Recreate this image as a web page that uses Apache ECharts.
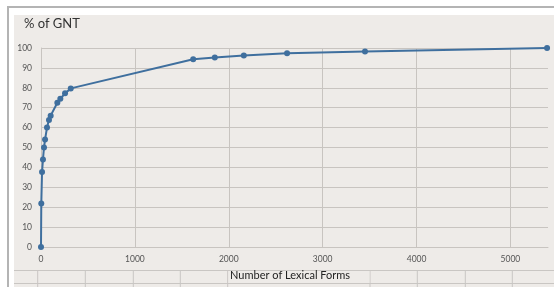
<!DOCTYPE html>
<html>
<head>
<meta charset="utf-8">
<script src="https://cdn.jsdelivr.net/npm/echarts@6/dist/echarts.min.js"></script>
<style>
  html, body { margin: 0; padding: 0; background: #fff; }
  #chart { width: 554px; height: 287px; }
</style>
</head>
<body>
<div id="chart"></div>
<script>
// number of lexical forms vs cumulative % of GNT
const lexicalForms = [0, 3, 11, 21, 32, 43, 64, 85, 103, 174, 206, 256, 317, 1621, 1851, 2160, 2621, 3451, 5390];
const percentGNT = [0, 21.8, 37.7, 44, 50, 54, 60, 63.8, 66, 72.5, 74.5, 77.2, 79.7, 94.3, 95.2, 96.2, 97.3, 98.3, 100];
const yTicks = [0, 10, 20, 30, 40, 50, 60, 70, 80, 90, 100];
const xTicks = [0, 1000, 2000, 3000, 4000, 5000];

const font = 'Lato, "Open Sans", sans-serif';
const gridColor = '#c8c4c0';

var mychart = echarts.init(document.getElementById('chart'));

// spreadsheet cell borders under the chart
const cellLines = [37.7, 85.3, 133.3, 180.3, 227.7, 370, 417.3, 465.3, 512.3].map(x => ({
  type: 'line',
  shape: { x1: x, y1: 270, x2: x, y2: 287 },
  style: { stroke: '#c9c6c3', lineWidth: 1 },
  silent: true
}));

mychart.setOption({
  animation: false,
  backgroundColor: '#ffffff',
  graphic: [
    { type: 'rect', shape: { x: 14, y: 15, width: 540, height: 272 }, style: { fill: '#eeebe8' }, z: -10 },
    { type: 'line', shape: { x1: 7, y1: 7, x2: 554, y2: 7 }, style: { stroke: '#b4b4b4', lineWidth: 2 } },
    { type: 'line', shape: { x1: 8, y1: 7, x2: 8, y2: 287 }, style: { stroke: '#b4b4b4', lineWidth: 2 } },
    { type: 'line', shape: { x1: 14, y1: 270.5, x2: 554, y2: 270.5 }, style: { stroke: '#c9c6c3', lineWidth: 1 } },
    { type: 'line', shape: { x1: 14, y1: 283.5, x2: 554, y2: 283.5 }, style: { stroke: '#c9c6c3', lineWidth: 1 } },
    ...cellLines,
    { type: 'rect', shape: { x: 228.5, y: 271, width: 141, height: 12 }, style: { fill: '#eeebe8' } },
    {
      type: 'text', left: 230, top: 270,
      style: { text: 'Number of Lexical Forms', fill: '#222', font: '11px ' + font }
    },
    {
      type: 'text', left: 24, top: 17,
      style: { text: '% of GNT', fill: '#333', font: '13px ' + font }
    }
  ],
  grid: { left: 41, right: 6, top: 48, bottom: 40 },
  xAxis: {
    type: 'value',
    min: xTicks[0],
    max: 5400,
    interval: 1000,
    axisLine: { show: true, lineStyle: { color: gridColor } },
    axisTick: { show: false },
    axisLabel: {
      color: '#555', fontSize: 8.5, fontFamily: font, margin: 8,
      showMaxLabel: false,
      formatter: v => xTicks.indexOf(v) >= 0 ? String(v) : ''
    },
    // vertical gridlines drawn by markLine so no line sits at the right edge
    splitLine: { show: false }
  },
  yAxis: {
    type: 'value',
    min: yTicks[0],
    max: yTicks[yTicks.length - 1],
    interval: 10,
    axisLine: { show: true, lineStyle: { color: gridColor } },
    axisTick: { show: false },
    axisLabel: { color: '#555', fontSize: 8.5, fontFamily: font, margin: 9 },
    splitLine: { lineStyle: { color: gridColor } }
  },
  series: [
    {
      name: '% of GNT',
      type: 'line',
      data: lexicalForms.map((x, i) => [x, percentGNT[i]]),
      symbol: 'circle',
      symbolSize: 6,
      clip: false,
      z: 3,
      lineStyle: { color: '#3f6f9e', width: 2 },
      itemStyle: { color: '#3f6f9e' },
      markLine: {
        silent: true,
        symbol: 'none',
        z: 1,
        label: { show: false },
        lineStyle: { color: gridColor, width: 1, type: 'solid' },
        data: xTicks.slice(1).map(v => ({ xAxis: v }))
      }
    }
  ]
});
</script>
</body>
</html>
